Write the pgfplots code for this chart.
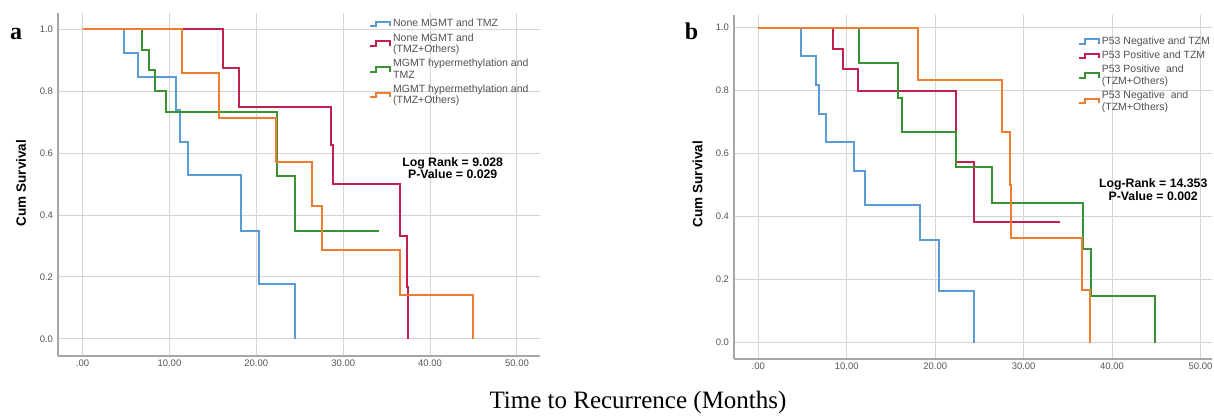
\documentclass[border=0pt]{standalone}
\usepackage{fontspec}
\setmainfont{Liberation Serif}
\newfontfamily\arial{Liberation Sans}
\usepackage{pgfplots}
\pgfplotsset{compat=1.18}
\definecolor{kmblue}{HTML}{5B9BD5}
\definecolor{kmred}{HTML}{C41E4E}
\definecolor{kmgreen}{HTML}{3A9332}
\definecolor{kmorange}{HTML}{ED7D31}
\definecolor{axisgray}{HTML}{A6A6A6}
\definecolor{gridgray}{HTML}{D4D4D4}
\definecolor{tickgray}{HTML}{555555}
\definecolor{legendgray}{HTML}{505050}
\pgfplotsset{
  km/.style={const plot, line width=2pt, line join=miter},
  kmstyle/.style={
    scale only axis,
    axis x line=bottom, axis y line=left,
    axis line style={-, draw=axisgray, line width=1.3pt},
    grid=major, major grid style={draw=gridgray, line width=1pt},
    major tick length=0pt,
    xtick={0,10,20,30,40,50}, xticklabels={.00,10.00,20.00,30.00,40.00,50.00},
    ytick={0,0.2,0.4,0.6,0.8,1.0}, yticklabels={0.0,0.2,0.4,0.6,0.8,1.0},
    ticklabel style={font=\arial\fontsize{9.5}{9.5}\selectfont, text=tickgray},
    yticklabel style={xshift=-1.5pt},
    legend image code/.code={\draw[#1, line width=2pt] (0pt,-2.2pt) -- (6pt,-2.2pt) -- (6pt,2.3pt) -- (20pt,2.3pt) -- (20pt,-2.2pt);},
    legend style={draw=none, fill=none, inner sep=0pt, font=\arial\fontsize{10.5}{11.5}\selectfont, text=legendgray, cells={anchor=west, align=left}, row sep=1pt},
    legend cell align=left,
  }
}
\begin{document}
\begin{tikzpicture}[x=1pt,y=1pt]
\useasboundingbox (0,0) rectangle (1214,417);
% ---------- panel a ----------
\begin{axis}[kmstyle, at={(58pt,61pt)}, anchor=south west, width=482pt, height=343pt,
  xmin=-2.82, xmax=52.65, ymin=-0.055, ymax=1.052,
  legend style={at={(0.645,0.988)}, anchor=north west}]
\addplot[km, kmblue] coordinates {(0,1) (4.8,0.923) (6.4,0.846) (10.8,0.74) (11.2,0.635) (12.1,0.53) (18.2,0.35) (20.3,0.176) (24.4,0)};
\addlegendentry{None MGMT and TMZ}
\addplot[km, kmred] coordinates {(0,1) (16.2,0.875) (18.0,0.75) (28.6,0.625) (28.8,0.5) (36.5,0.333) (37.4,0.167) (37.5,0)};
\addlegendentry{None MGMT and\\(TMZ+Others)}
\addplot[km, kmgreen] coordinates {(0,1) (6.9,0.933) (7.6,0.867) (8.3,0.8) (9.6,0.733) (22.4,0.525) (24.4,0.35) (34.1,0.35)};
\addlegendentry{MGMT hypermethylation and\\TMZ}
\addplot[km, kmorange] coordinates {(0,1) (11.4,0.857) (15.7,0.714) (22.3,0.571) (26.4,0.429) (27.6,0.286) (36.5,0.143) (44.9,0)};
\addlegendentry{MGMT hypermethylation and\\(TMZ+Others)}
\node[font=\arial\bfseries\fontsize{12.3}{12.5}\selectfont, align=center] at (axis cs:42.6,0.552) {Log Rank = 9.028\\P-Value = 0.029};
\end{axis}
% ---------- panel b ----------
\begin{axis}[kmstyle, at={(734pt,58pt)}, anchor=south west, width=478pt, height=344pt,
  xmin=-2.75, xmax=51.3, ymin=-0.052, ymax=1.040,
  legend style={at={(0.719,0.942)}, anchor=north west}]
\addplot[km, kmblue] coordinates {(0,1) (4.8,0.909) (6.5,0.818) (6.9,0.727) (7.6,0.636) (10.8,0.545) (12.1,0.436) (18.3,0.327) (20.4,0.164) (24.4,0)};
\addlegendentry{P53 Negative and TZM}
\addplot[km, kmred] coordinates {(0,1) (8.4,0.933) (9.6,0.867) (11.3,0.8) (22.4,0.572) (24.4,0.383) (34.1,0.383)};
\addlegendentry{P53 Positive and TZM}
\addplot[km, kmgreen] coordinates {(0,1) (11.4,0.889) (15.8,0.778) (16.2,0.667) (22.4,0.556) (26.4,0.444) (36.7,0.296) (37.6,0.148) (44.9,0)};
\addlegendentry{P53 Positive\ \ and\\(TZM+Others)}
\addplot[km, kmorange] coordinates {(0,1) (18.0,0.833) (27.6,0.667) (28.5,0.5) (28.6,0.333) (36.6,0.167) (37.5,0)};
\addlegendentry{P53 Negative\ \ and\\(TZM+Others)}
\node[font=\arial\bfseries\fontsize{12.3}{12.5}\selectfont, align=center] at (axis cs:44.65,0.485) {Log-Rank = 14.353\\P-Value = 0.002};
\end{axis}
% ---------- labels ----------
\node[font=\arial\bfseries\fontsize{13.5}{13.5}\selectfont, rotate=90] at (21,234) {Cum Survival};
\node[font=\arial\bfseries\fontsize{13.5}{13.5}\selectfont, rotate=90] at (697.5,233) {Cum Survival};
\node[font=\bfseries\fontsize{24}{24}\selectfont, anchor=base, inner sep=0pt] at (16,377) {a};
\node[font=\bfseries\fontsize{24}{24}\selectfont, anchor=base, inner sep=0pt] at (691.5,377) {b};
\node[font=\fontsize{25}{25}\selectfont, anchor=base, inner sep=0pt] at (638,8) {Time to Recurrence (Months)};
\end{tikzpicture}
\end{document}
